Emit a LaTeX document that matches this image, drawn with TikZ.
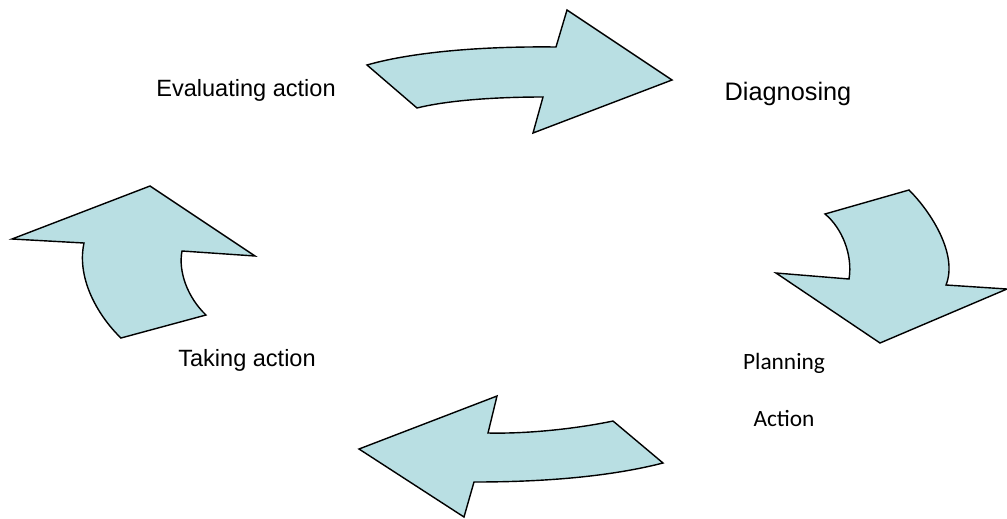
\documentclass[tikz,border=0pt]{standalone}
\usepackage{fontspec}
\setmainfont{Liberation Sans}
\newfontfamily\calibrifont{Carlito}
\usepackage{tikz}

\definecolor{arrowblue}{RGB}{185,223,227}

\begin{document}
\begin{tikzpicture}[x=0.02cm, y=-0.02cm,
    cyclearrow/.style={draw=black, fill=arrowblue, line width=0.8pt},
    steplabel/.style={anchor=base, inner sep=0pt, font=\fontsize{13.4}{16}\selectfont},
    planlabel/.style={anchor=base, inner sep=0pt, font=\calibrifont\fontsize{13.3}{16}\selectfont}]

\useasboundingbox (0,0) rectangle (1007,518);

% STAGE LABELS

\node[steplabel] (evaluating) at (246,96) {Evaluating action};
\node[steplabel, font=\fontsize{14.4}{17}\selectfont] (diagnosing) at (788,100) {Diagnosing};
\node[planlabel] (planning) at (784,369) {Planning};
\node[planlabel] (action) at (784,426) {Action};
\node[steplabel] (taking) at (247,366) {Taking action};


% CYCLE ARROWS

% top arrow: evaluating -> diagnosing
\draw[cyclearrow] (367,65) .. controls (405,54) and (470,46) .. (556,47)
    -- (567,10) -- (672,80) -- (533,133) -- (543,97)
    .. controls (490,97) and (445,101) .. (417,108) -- cycle;

% right arrow: diagnosing -> planning
\draw[cyclearrow] (825,214) -- (909,190)
    .. controls (932,213) and (958,255) .. (946,285)
    -- (1007,289) -- (880,343) -- (776,273) -- (849,279)
    .. controls (853,255) and (842,228) .. (825,214) -- cycle;

% bottom arrow: planning -> taking action
\draw[cyclearrow] (613,421) -- (663,463)
    .. controls (620,474) and (560,482) .. (474,482)
    -- (464,517) -- (359,449) -- (497,396) -- (488,433)
    .. controls (530,434) and (580,428) .. (613,421) -- cycle;

% left arrow: taking action -> evaluating
\draw[cyclearrow] (206,315) -- (121,338)
    .. controls (100,318) and (76,280) .. (84,243)
    -- (12,239) -- (150,186) -- (255,256) -- (182,251)
    .. controls (178,272) and (188,298) .. (206,315) -- cycle;

\end{tikzpicture}
\end{document}
